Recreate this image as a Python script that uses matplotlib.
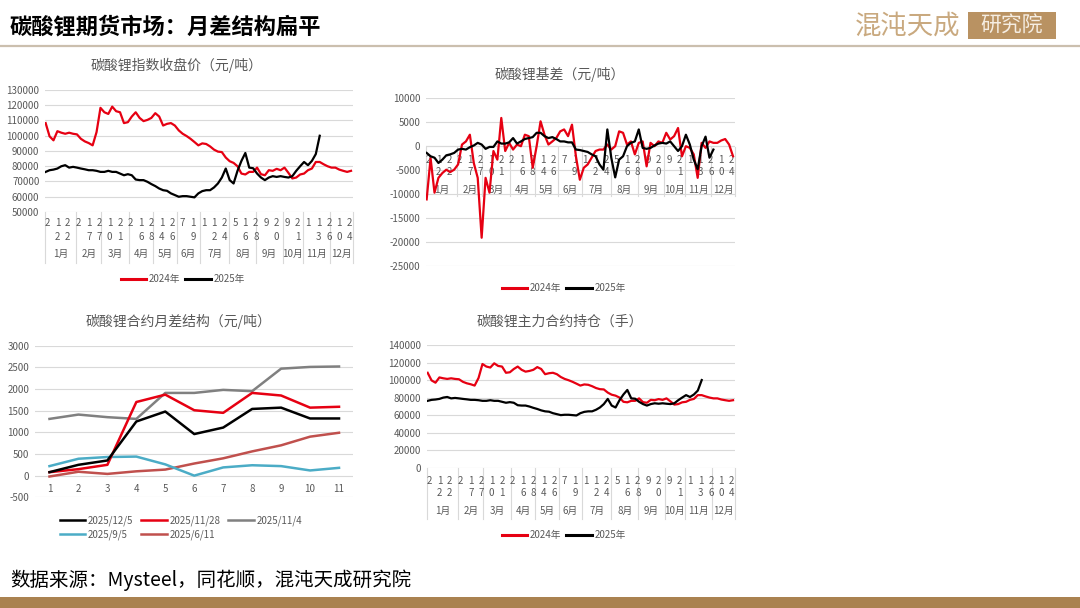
import numpy as np
import matplotlib
matplotlib.use('Agg')
import matplotlib.pyplot as plt
from matplotlib.transforms import blended_transform_factory
from matplotlib.patches import Rectangle
from matplotlib.lines import Line2D
from matplotlib.ticker import StrMethodFormatter

plt.rcParams['font.family'] = ['Noto Sans CJK SC', 'DejaVu Sans']
plt.rcParams['axes.unicode_minus'] = False

# ---------------- data ----------------
# trading days per month and category labels of the date axis
month_days = [24, 19, 21, 19, 18, 18, 22, 21, 20, 16, 20, 18]
month_names = ['1月', '2月', '3月', '4月', '5月', '6月', '7月', '8月', '9月', '10月', '11月', '12月']
day_labels = ['2', '12', '22', '2', '17', '27', '10', '21', '2', '16', '28', '14', '26', '7', '19',
              '1', '12', '24', '5', '16', '28', '9', '20', '9', '21', '1', '13', '26', '10', '24']
step = 3  # one value every 3 trading days

# lithium carbonate index close (yuan/t)
price_2024 = [108300, 99600, 97000, 103000, 102000, 101300, 102000, 101300, 100900, 98000,
              96300, 95200, 93700, 102400, 118300, 115400, 114300, 119100, 116100, 115400,
              108300, 108900, 112600, 115400, 111700, 109600, 110400, 111700, 114800, 112600,
              106700, 107800, 108300, 106700, 103500, 101300, 99800, 98000, 95900, 93700,
              95000, 94600, 93000, 90900, 89600, 89300, 85700, 83300, 82200, 80000,
              75200, 74600, 76300, 76300, 79100, 74800, 74100, 77400, 77000, 78300,
              77400, 79100, 75700, 72000, 72600, 74600, 75200, 77400, 78500, 82800,
              82800, 81300, 80000, 79100, 79100, 77800, 77000, 76300, 77000]
price_2025 = [76300, 77400, 77800, 78500, 80000, 80700, 79100, 79600, 79100, 78500,
              78000, 77400, 77400, 77000, 76300, 76300, 77000, 76300, 76300, 75200,
              74100, 74800, 74100, 71300, 70900, 70900, 69800, 68300, 67000, 65400,
              64300, 63900, 62200, 61100, 60000, 60400, 60400, 60000, 59600, 62200,
              63700, 64300, 64300, 66100, 68700, 72600, 78500, 70900, 68700, 77000,
              83500, 88700, 79100, 78700, 75200, 72600, 70900, 72600, 73500, 73000,
              73500, 73000, 72600, 73500, 77000, 80000, 82800, 80700, 83500, 88000,
              100000]

# basis (yuan/t)
basis_2024 = [-11100, -2500, -9700, -6600, -5600, -4900, -5400, -4900, -3800, 350,
              1000, 2400, -3500, -6600, -19100, -6600, -9700, -1000, -2800, 5900,
              -1000, 700, -700, 350, 0, 2400, 2100, -4500, 0, 5200,
              2400, 350, 1000, 1700, 3100, 3500, 2100, 4500, -2100, -7000,
              -4500, -3800, -2400, -1000, -700, -700, 350, -700, 0, 3100,
              2800, 350, 1000, -1700, 700, 1000, -4200, 700, 0, 1000,
              700, 2800, 1400, 2100, 3800, -2100, 0, -350, -1700, -6600,
              700, -350, 1000, 700, 700, 1200, 1500, 350, -2100]
basis_2025 = [-1400, -2100, -2400, -3500, -2800, -1900, -1700, -1400, -700, -550,
              -700, -200, 150, 700, 350, -550, -150, -150, 1000, 550,
              550, 800, 1700, 550, 1000, 1500, 1700, 1900, 2800, 2800,
              2100, 1700, 1900, 1500, 1000, 1000, 800, 800, -700, -800,
              -1000, -1200, -1700, -2100, -3800, -4900, 3500, -2400, -6500, -2800,
              -2100, 0, 700, 1000, 3500, -350, -550, -350, 150, 550,
              700, 550, 1000, 0, -1000, 0, 2400, 350, -2800, -4800,
              0, 2000, -2400, -700]

# month spread structure (yuan/t)
spread_x = [1, 2, 3, 4, 5, 6, 7, 8, 9, 10, 11]
spread_dates = ['2025/12/5', '2025/11/28', '2025/11/4', '2025/9/5', '2025/6/11']
spread_1205 = [80, 250, 350, 1250, 1480, 960, 1110, 1540, 1570, 1320, 1320]
spread_1128 = [80, 150, 250, 1700, 1870, 1510, 1450, 1910, 1850, 1570, 1590]
spread_1104 = [1310, 1410, 1350, 1310, 1910, 1910, 1980, 1950, 2470, 2510, 2520]
spread_0905 = [220, 390, 430, 440, 260, 0, 190, 240, 220, 120, 180]
spread_0611 = [-20, 90, 40, 100, 140, 280, 400, 560, 700, 900, 990]

# main contract open interest (lots), same curves as the index chart in the source
hold_2024 = price_2024
hold_2025 = price_2025

# ---------------- style ----------------
W, H = 1080, 608
GRID = '#D9D9D9'
TXT = '#595959'
RED = '#E60012'
TAN = '#B08A5A'


def fx(px):
    return px / W


def fy(py):
    return 1 - py / H


fig = plt.figure(figsize=(10.8, 6.08), dpi=100)
fig.patch.set_facecolor('white')


def add_ax(left, top, right, bottom):
    return fig.add_axes([fx(left), fy(bottom), (right - left) / W, (bottom - top) / H])


def style_ax(ax, ylim, yticks):
    ax.set_ylim(*ylim)
    ax.set_yticks(yticks)
    ax.yaxis.set_major_formatter(StrMethodFormatter('{x:.0f}'))
    ax.tick_params(axis='y', length=0, labelsize=7, labelcolor=TXT, pad=4)
    ax.set_xticks([])
    for s in ax.spines.values():
        s.set_visible(False)
    ax.yaxis.grid(True, color=GRID, lw=0.8)
    ax.set_axisbelow(True)
    ax.patch.set_alpha(0)


def date_axis(ax, rows, y_month, sep_top, sep_bot):
    # two-level category axis: day numbers (digits stacked) and months
    trans = blended_transform_factory(ax.transData, fig.transFigure)
    n = sum(month_days)
    bounds = np.concatenate([[0], np.cumsum(month_days)]) - 0.5
    for b in bounds:
        ax.add_line(Line2D([b, b], [fy(sep_top), fy(sep_bot)], transform=trans,
                           color=GRID, lw=0.8, clip_on=False, zorder=1))
    for pos, lab in zip(range(1, n, 8), day_labels):
        for k, ch in enumerate(lab):
            ax.text(pos, fy(rows[k]), ch, transform=trans, ha='center', va='center',
                    fontsize=7, color=TXT, clip_on=False, zorder=1)
    centers = (bounds[:-1] + bounds[1:]) / 2
    for c, m in zip(centers, month_names):
        ax.text(c, fy(y_month), m, transform=trans, ha='center', va='center',
                fontsize=7, color=TXT, clip_on=False, zorder=1)
    ax.set_xlim(-0.5, n - 0.5)


def year_legend(ax, cx, cy):
    h = [Line2D([], [], color=RED, lw=2.2), Line2D([], [], color='black', lw=2.2)]
    ax.legend(h, ['2024年', '2025年'], loc='center', bbox_to_anchor=(fx(cx), fy(cy)),
              bbox_transform=fig.transFigure, ncol=2, frameon=False, fontsize=7,
              labelcolor=TXT, handlelength=2.6, handletextpad=0.3, columnspacing=0.5)


def xs(series):
    return np.arange(len(series)) * step


# ---------------- header / footer ----------------
fig.text(fx(10), fy(27), '碳酸锂期货市场：月差结构扁平', fontsize=16, fontweight='bold',
         ha='left', va='center', color='black')
fig.text(fx(908), fy(26), '混沌天成', fontsize=19, color='#C9A97F', ha='center', va='center',
         fontweight='light')
fig.add_artist(Rectangle((fx(968), fy(39)), 88 / W, 27 / H, transform=fig.transFigure,
                         facecolor='#B99262', edgecolor='none'))
fig.text(fx(1012), fy(26), '研究院', fontsize=15, color='#F5EDE2', ha='center', va='center')
fig.add_artist(Line2D([0, 1], [fy(46), fy(46)], transform=fig.transFigure,
                      color='#CBBFAE', lw=1.6))
fig.text(fx(10), fy(580), '数据来源：Mysteel，同花顺，混沌天成研究院', fontsize=14,
         ha='left', va='center', color='black')
fig.add_artist(Rectangle((0, 0), 1, 11 / H, transform=fig.transFigure,
                         facecolor='#AA8250', edgecolor='none'))

# ---------------- top-left: index close ----------------
ax1 = add_ax(45, 90, 353, 212)
style_ax(ax1, (50000, 130000), np.arange(50000, 130001, 10000))
ax1.plot(xs(price_2024), price_2024, color=RED, lw=1.6, zorder=3)
ax1.plot(xs(price_2025), price_2025, color='black', lw=1.6, zorder=4)
date_axis(ax1, [223, 236.5], 254, 212, 263)
ax1.set_ylim(50000, 130000)
fig.text(fx(177), fy(65), '碳酸锂指数收盘价（元/吨）', fontsize=10, color=TXT, ha='center', va='center')
year_legend(ax1, 183, 279)

# ---------------- top-right: basis ----------------
ax2 = add_ax(426, 98.3, 735, 266)
style_ax(ax2, (-25000, 10000), np.arange(-25000, 10001, 5000))
ax2.axhline(0, color=GRID, lw=0.8, zorder=1)
ax2.plot(xs(basis_2024), basis_2024, color=RED, lw=1.6, zorder=3)
ax2.plot(xs(basis_2025), basis_2025, color='black', lw=1.6, zorder=4)
date_axis(ax2, [160, 171.7], 189.5, 146.7, 196)
ax2.set_ylim(-25000, 10000)
fig.text(fx(560), fy(74), '碳酸锂基差（元/吨）', fontsize=10, color=TXT, ha='center', va='center')
year_legend(ax2, 564, 288)

# ---------------- bottom-left: month spread ----------------
ax3 = add_ax(35, 345.7, 353.5, 497.3)
style_ax(ax3, (-500, 3000), np.arange(-500, 3001, 500))
spread_colors = ['black', RED, '#808080', '#4BACC6', '#C0504D']
spreads = [spread_1205, spread_1128, spread_1104, spread_0905, spread_0611]
lines = []
for vals, col, lab, z in zip(spreads, spread_colors, spread_dates, [7, 6, 5, 4, 3]):
    ln, = ax3.plot(spread_x, vals, color=col, lw=1.8, label=lab, zorder=z)
    lines.append(ln)
for x in spread_x:
    ax3.annotate(str(x), (x, 0), xytext=(0, -6), textcoords='offset points', ha='center',
                 va='top', fontsize=7, color=TXT, annotation_clip=False)
ax3.set_xlim(0.5, 11.5)
order = [0, 3, 1, 4, 2]
ax3.legend([lines[i] for i in order], [spread_dates[i] for i in order], loc='center',
           bbox_to_anchor=(fx(181), fy(527.5)), bbox_transform=fig.transFigure, ncol=3,
           frameon=False, fontsize=7, labelcolor=TXT, handlelength=2.6, handletextpad=0.3,
           columnspacing=0.8, labelspacing=0.35)
fig.text(fx(178), fy(321.5), '碳酸锂合约月差结构（元/吨）', fontsize=10, color=TXT, ha='center', va='center')

# ---------------- bottom-right: open interest ----------------
ax4 = add_ax(427, 345, 735, 467.7)
style_ax(ax4, (0, 140000), np.arange(0, 140001, 20000))
ax4.plot(xs(hold_2024), hold_2024, color=RED, lw=1.6, zorder=3)
ax4.plot(xs(hold_2025), hold_2025, color='black', lw=1.6, zorder=4)
date_axis(ax4, [480.7, 493.3], 511, 467.7, 519)
ax4.set_ylim(0, 140000)
fig.text(fx(560), fy(321.5), '碳酸锂主力合约持仓（手）', fontsize=10, color=TXT, ha='center', va='center')
year_legend(ax4, 564, 535)

fig.savefig('out.png', dpi=100)
